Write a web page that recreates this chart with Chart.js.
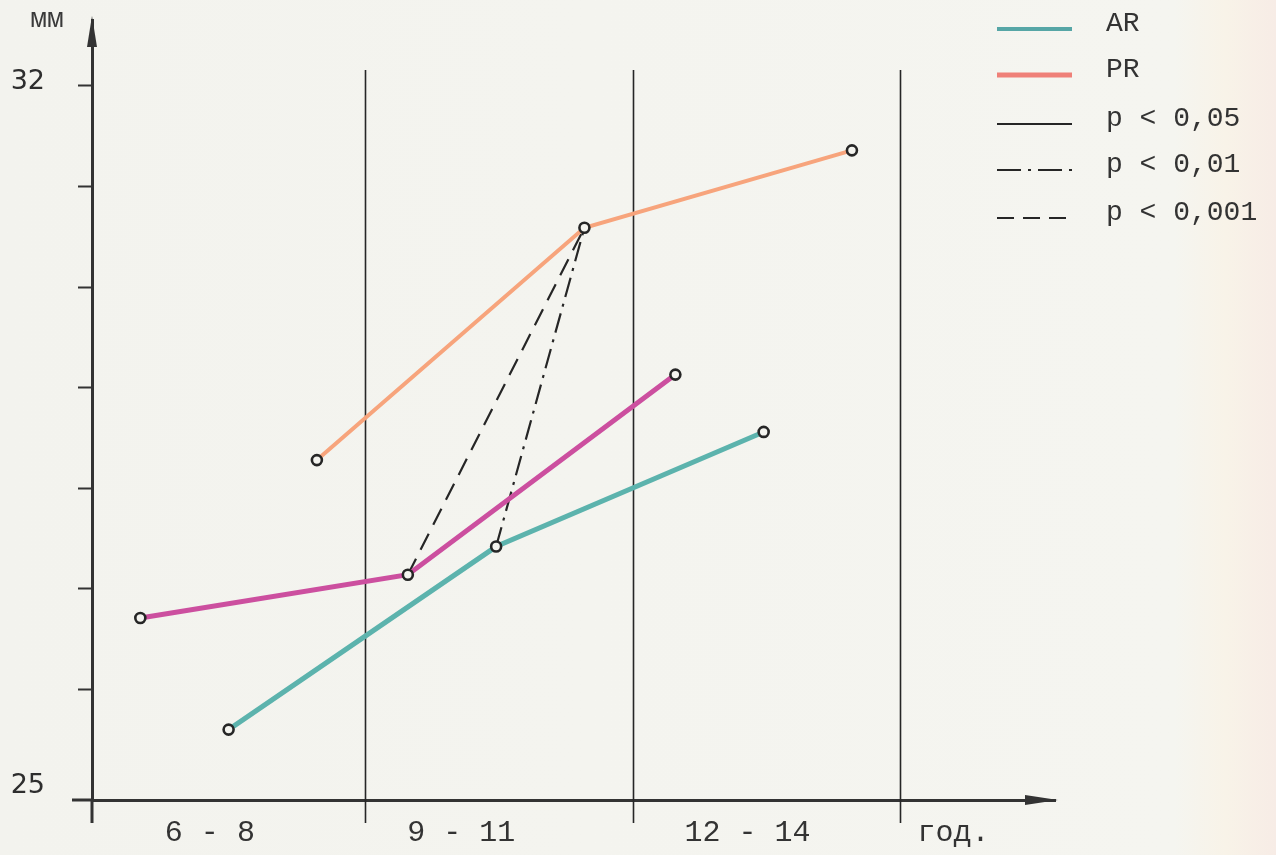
<!DOCTYPE html>
<html>
<head>
<meta charset="utf-8">
<title>AR / PR</title>
<script src="https://cdn.jsdelivr.net/npm/chart.js@4.4.1/dist/chart.umd.min.js"></script>
<style>
  html, body { margin: 0; padding: 0; }
  body {
    width: 1276px; height: 855px; overflow: hidden;
    background: linear-gradient(to right, #f3f3ee 0%, #f5f5f0 92%, #f8f3e8 96%, #f7ece6 100%);
  }
</style>
</head>
<body>
<canvas id="sizeChart" width="1276" height="855"></canvas>
<script>
// age groups on the x axis
const ageGroups = ['6 - 8', '9 - 11', '12 - 14'];
const xUnit = 'год.';
const yUnit = 'мм';

// mean values (мм) per age group
const arValues = [25.60, 27.42, 28.56];
const prValues = [28.28, 30.59, 31.36];
const thirdValues = [26.71, 27.14, 29.13];

// y axis ticks and which of them get a label
const yTicks = [25, 26, 27, 28, 29, 30, 31, 32];
const yLabeled = [25, 32];

const legendLabels = ['AR', 'PR', 'p < 0,05', 'p < 0,01', 'p < 0,001'];

// where the three series sit inside one age group
const offsets = { third: 0.16, ar: 0.49, pr: 0.82 };
const xLabelPos = [0.42, 1.36, 2.43, 3.20];

const toPoints = (values, off) => values.map((v, i) => ({ x: i + off, y: v }));

const arPoints = toPoints(arValues, offsets.ar);
const prPoints = toPoints(prValues, offsets.pr);
const thirdPoints = toPoints(thirdValues, offsets.third);

// significance links in the 9 - 11 group
const link001 = [thirdPoints[1], prPoints[1]];
const link01 = [arPoints[1], prPoints[1]];

const colors = {
    ar: '#5cb3ad',
    pr: '#f7a47c',
    third: '#cc4f9f',
    ink: '#262626',
    legendAr: '#56a6a6',
    legendPr: '#ef8078'
};

function seriesLine(points, color, width) {
    return {
        data: points,
        borderColor: color,
        borderWidth: width,
        pointRadius: 5,
        pointBorderWidth: 2.6,
        pointBorderColor: colors.ink,
        pointBackgroundColor: '#f4f4ef',
        order: 1
    };
}

function linkLine(points, dash) {
    return {
        data: points,
        borderColor: colors.ink,
        borderWidth: 2.2,
        borderDash: dash,
        pointRadius: 0,
        order: 5
    };
}

// axes extras, separators, unit and legend
const decor = {
    id: 'decor',
    beforeDatasetsDraw(chart) {
        const { ctx, chartArea, scales: { x, y } } = chart;
        ctx.save();
        ctx.strokeStyle = colors.ink;
        ctx.lineWidth = 1.6;
        for (let b = 1; b <= ageGroups.length; b++) {
            const px = Math.round(x.getPixelForValue(b)) + 0.5;
            ctx.beginPath();
            ctx.moveTo(px, y.getPixelForValue(32.16));
            ctx.lineTo(px, chartArea.bottom + 23);
            ctx.stroke();
        }
        ctx.restore();
    },
    afterDraw(chart) {
        const { ctx, chartArea } = chart;
        const left = chartArea.left, bottom = chartArea.bottom;
        ctx.save();
        ctx.strokeStyle = '#333';
        ctx.fillStyle = '#333';
        ctx.lineWidth = 3;
        // axis stubs past the origin
        ctx.beginPath();
        ctx.moveTo(left, bottom);
        ctx.lineTo(left, bottom + 23);
        ctx.moveTo(left, bottom);
        ctx.lineTo(left - 20, bottom);
        ctx.stroke();
        // arrow heads
        ctx.beginPath();
        ctx.moveTo(left, chartArea.top - 4);
        ctx.lineTo(left - 5, chartArea.top + 27);
        ctx.lineTo(left + 5, chartArea.top + 27);
        ctx.closePath();
        ctx.fill();
        ctx.beginPath();
        ctx.moveTo(chartArea.right + 3, bottom);
        ctx.lineTo(chartArea.right - 30, bottom - 5);
        ctx.lineTo(chartArea.right - 30, bottom + 5);
        ctx.closePath();
        ctx.fill();

        // unit of the y axis
        ctx.fillStyle = '#3a3a3a';
        ctx.font = '28px "Liberation Mono"';
        ctx.textAlign = 'center';
        ctx.textBaseline = 'alphabetic';
        ctx.fillText(yUnit, 47, 27);

        // legend
        const lx0 = 997, lx1 = 1072, tx = 1106;
        const rows = [29, 75, 124, 170, 218];
        const styles = [
            { color: colors.legendAr, width: 4, dash: [] },
            { color: colors.legendPr, width: 5, dash: [] },
            { color: colors.ink, width: 2, dash: [] },
            { color: colors.ink, width: 2, dash: [24, 7, 3, 7] },
            { color: colors.ink, width: 2, dash: [17, 9] }
        ];
        legendLabels.forEach((label, i) => {
            const s = styles[i];
            ctx.strokeStyle = s.color;
            ctx.lineWidth = s.width;
            ctx.setLineDash(s.dash);
            ctx.beginPath();
            ctx.moveTo(lx0, rows[i]);
            ctx.lineTo(lx1, rows[i]);
            ctx.stroke();
            ctx.setLineDash([]);
            ctx.fillStyle = '#333';
            ctx.font = '28px "Liberation Mono"';
            ctx.textAlign = 'left';
            ctx.textBaseline = 'middle';
            ctx.fillText(label, tx, rows[i] - 5);
        });
        ctx.restore();
    }
};

const config = {
    type: 'line',
    data: {
        datasets: [
            seriesLine(arPoints, colors.ar, 5),
            seriesLine(prPoints, colors.pr, 4),
            seriesLine(thirdPoints, colors.third, 5),
            linkLine(link001, [18, 10]),
            linkLine(link01, [20, 7, 3, 7])
        ]
    },
    options: {
        responsive: false,
        animation: false,
        devicePixelRatio: 1,
        layout: { padding: { top: 20, right: 221, left: 0, bottom: 0 } },
        plugins: {
            legend: { display: false },
            tooltip: { enabled: false }
        },
        scales: {
            x: {
                type: 'linear',
                min: -0.0206,
                max: 3.579,
                afterBuildTicks: (scale) => {
                    scale.ticks = xLabelPos.map(v => ({ value: v }));
                },
                afterFit: (scale) => {
                    scale.height = 55;
                    scale.paddingLeft = 0;
                    scale.paddingRight = 0;
                },
                grid: { display: false, drawTicks: false },
                border: { display: true, color: '#333', width: 3 },
                ticks: {
                    autoSkip: false,
                    maxRotation: 0,
                    padding: 15,
                    color: '#333',
                    font: { family: 'Liberation Mono', size: 30 },
                    callback: (value, index) => index < ageGroups.length ? ageGroups[index] : xUnit
                }
            },
            y: {
                type: 'linear',
                min: 24.90,
                max: 32.656,
                afterBuildTicks: (scale) => {
                    scale.ticks = yTicks.map(v => ({ value: v }));
                },
                afterFit: (scale) => {
                    scale.width = 92;
                    scale.paddingTop = 0;
                    scale.paddingBottom = 0;
                },
                grid: {
                    display: true,
                    drawOnChartArea: false,
                    drawTicks: true,
                    tickLength: 14,
                    tickWidth: 2,
                    tickColor: (ctx) => (ctx.tick && ctx.tick.value === 25) ? 'rgba(0,0,0,0)' : '#333'
                },
                border: { display: true, color: '#333', width: 3 },
                ticks: {
                    padding: 33,
                    labelOffset: -4,
                    color: '#2e2e2e',
                    font: { family: 'DejaVu Sans', size: 27 },
                    callback: (value) => yLabeled.includes(value) ? String(value) : ''
                }
            }
        }
    },
    plugins: [decor]
};

const sizeChart = new Chart(document.getElementById('sizeChart'), config);
</script>
</body>
</html>
